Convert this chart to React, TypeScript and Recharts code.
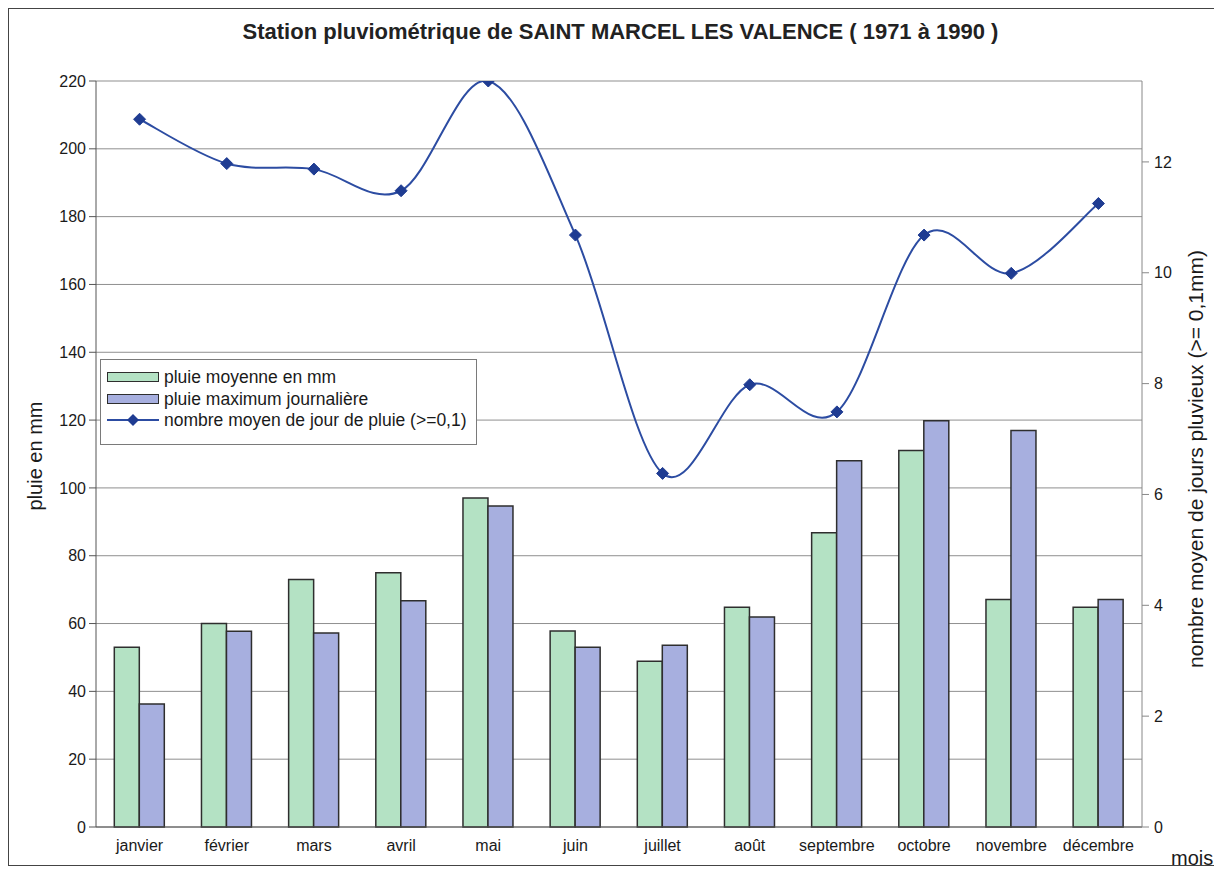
import React from 'react';
import { ComposedChart, Bar, Line, XAxis, YAxis, CartesianGrid, Legend } from 'recharts';

const months = ['janvier', 'février', 'mars', 'avril', 'mai', 'juin', 'juillet', 'août', 'septembre', 'octobre', 'novembre', 'décembre'];
const pluieMoyenne = [53, 60, 73, 75, 97, 57.8, 48.9, 64.8, 86.8, 111, 67.1, 64.8];
const pluieMaximum = [36.3, 57.7, 57.2, 66.7, 94.7, 53, 53.6, 61.9, 108, 119.8, 116.9, 67.1];
const joursPluie = [12.77, 11.97, 11.87, 11.48, 13.46, 10.68, 6.38, 7.98, 7.49, 10.68, 9.99, 11.25];

const leftTicks = [0, 20, 40, 60, 80, 100, 120, 140, 160, 180, 200, 220];
const rightTicks = [0, 2, 4, 6, 8, 10, 12];
const boundaryTicks = [0, 1, 2, 3, 4, 5, 6, 7, 8, 9, 10, 11, 12];

const legendLabels = ['pluie moyenne en mm', 'pluie maximum journalière', 'nombre moyen de jour de pluie (>=0,1)'];

const data = months.map((m, i) => ({
  month: m,
  moy: pluieMoyenne[i],
  max: pluieMaximum[i],
  jours: joursPluie[i],
}));

const FONT = '"Liberation Sans", Arial, sans-serif';
const GREEN = '#b4e2c4';
const BLUE = '#a7afdf';
const LINE = '#2c4ca2';
const MARK = '#1f3c92';
const BAR_STROKE = '#2e2e2e';

// Catmull-Rom style smoothing (similar to Excel smoothed lines)
const smoothCurve: any = (context: any) => {
  let pts: number[][] = [];
  return {
    areaStart() {},
    areaEnd() {},
    lineStart() {
      pts = [];
    },
    point(x: number, y: number) {
      pts.push([+x, +y]);
    },
    lineEnd() {
      const n = pts.length;
      if (!n) return;
      context.moveTo(pts[0][0], pts[0][1]);
      for (let i = 0; i < n - 1; i++) {
        const p0 = pts[i - 1] || pts[i];
        const p1 = pts[i];
        const p2 = pts[i + 1];
        const p3 = pts[i + 2] || p2;
        context.bezierCurveTo(
          p1[0] + (p2[0] - p0[0]) / 6,
          p1[1] + (p2[1] - p0[1]) / 6,
          p2[0] - (p3[0] - p1[0]) / 6,
          p2[1] - (p3[1] - p1[1]) / 6,
          p2[0],
          p2[1]
        );
      }
    },
  };
};

const Diamond = (props: any) => {
  const { cx, cy, index } = props;
  if (cx == null || cy == null) return <g key={`d-${index}`} />;
  const r = 6;
  return (
    <polygon
      key={`d-${index}`}
      points={`${cx},${cy - r} ${cx + r},${cy} ${cx},${cy + r} ${cx - r},${cy}`}
      fill={MARK}
      stroke={MARK}
      strokeWidth={1}
    />
  );
};

const LegendBox = () => (
  <div
    style={{
      width: 377,
      height: 86,
      boxSizing: 'border-box',
      border: '1px solid #7a7a7a',
      background: '#fff',
      position: 'relative',
      fontFamily: FONT,
      fontSize: 17.5,
      color: '#1a1a1a',
    }}
  >
    {legendLabels.map((lab, i) => {
      const cy = [17, 39, 60][i];
      return (
        <div key={lab} style={{ position: 'absolute', left: 0, top: cy - 11, height: 22, width: '100%' }}>
          {i < 2 ? (
            <div
              style={{
                position: 'absolute',
                left: 6,
                top: 6,
                width: 52,
                height: 10,
                boxSizing: 'border-box',
                background: i === 0 ? GREEN : BLUE,
                border: `1.5px solid ${BAR_STROKE}`,
              }}
            />
          ) : (
            <svg style={{ position: 'absolute', left: 6, top: 0 }} width={54} height={22}>
              <line x1={0} y1={11} x2={52} y2={11} stroke={LINE} strokeWidth={2} />
              <polygon points="26,5 32,11 26,17 20,11" fill={MARK} />
            </svg>
          )}
          <div style={{ position: 'absolute', left: 63, top: 0, lineHeight: '22px', whiteSpace: 'nowrap' }}>{lab}</div>
        </div>
      );
    })}
  </div>
);

const LeftLabel = (props: any) => {
  const { viewBox } = props;
  const x = viewBox.x + 26;
  const y = viewBox.y + viewBox.height / 2 + 2;
  return (
    <text x={x} y={y} transform={`rotate(-90 ${x} ${y})`} textAnchor="middle" dominantBaseline="central" fontSize={20} fontFamily={FONT} fill="#1a1a1a">
      pluie en mm
    </text>
  );
};

const RightLabel = (props: any) => {
  const { viewBox } = props;
  const x = viewBox.x + 53;
  const y = viewBox.y + viewBox.height / 2 + 5;
  return (
    <text x={x} y={y} transform={`rotate(-90 ${x} ${y})`} textAnchor="middle" dominantBaseline="central" fontSize={21} fontFamily={FONT} fill="#1a1a1a">
      nombre moyen de jours pluvieux (&gt;= 0,1mm)
    </text>
  );
};

export default function App() {
  return (
    <div
      style={{
        width: 1211,
        height: 856,
        border: '1px solid #444',
        position: 'relative',
        background: '#fff',
        fontFamily: FONT,
      }}
    >
      <div
        style={{
          position: 'absolute',
          left: 6,
          top: 12,
          width: 1211,
          textAlign: 'center',
          fontSize: 22,
          lineHeight: '22px',
          fontWeight: 'bold',
          color: '#222',
          zIndex: 2,
        }}
      >
        Station pluviométrique de SAINT MARCEL LES VALENCE ( 1971 à 1990 )
      </div>
      <ComposedChart
        width={1211}
        height={856}
        data={data}
        margin={{ top: 72, right: 0, bottom: 0, left: 0 }}
        barCategoryGap="21%"
        barGap={0}
      >
        <CartesianGrid vertical={false} stroke="#8f8f8f" strokeWidth={1} yAxisId="left" xAxisId="cat" />
        <XAxis
          xAxisId="ticks"
          type="number"
          domain={[0, 12]}
          ticks={boundaryTicks}
          allowDataOverflow
          height={0}
          axisLine={false}
          tickLine={{ stroke: '#555' }}
          tickSize={7}
          tick={() => <g />}
        />
        <XAxis
          xAxisId="cat"
          dataKey="month"
          height={38}
          interval={0}
          tickLine={false}
          tickSize={0}
          tickMargin={13}
          axisLine={{ stroke: '#555' }}
          tick={{ fontSize: 16, fill: '#1a1a1a', fontFamily: FONT }}
        />
        <YAxis
          yAxisId="left"
          domain={[0, 220]}
          ticks={leftTicks}
          width={87}
          tickSize={7}
          tickMargin={3}
          axisLine={{ stroke: '#555' }}
          tickLine={{ stroke: '#555' }}
          tick={{ fontSize: 16, fill: '#1a1a1a', fontFamily: FONT }}
          label={<LeftLabel />}
        />
        <YAxis
          yAxisId="right"
          orientation="right"
          domain={[0, 13.46]}
          allowDataOverflow
          ticks={rightTicks}
          width={78}
          tickSize={7}
          tickMargin={5}
          axisLine={{ stroke: '#888' }}
          tickLine={{ stroke: '#888' }}
          tick={{ fontSize: 16, fill: '#1a1a1a', fontFamily: FONT }}
          label={<RightLabel />}
        />
        <Bar xAxisId="cat" yAxisId="left" dataKey="moy" name={legendLabels[0]} fill={GREEN} stroke={BAR_STROKE} strokeWidth={1.5} isAnimationActive={false} />
        <Bar xAxisId="cat" yAxisId="left" dataKey="max" name={legendLabels[1]} fill={BLUE} stroke={BAR_STROKE} strokeWidth={1.5} isAnimationActive={false} />
        <Line
          xAxisId="cat"
          yAxisId="right"
          dataKey="jours"
          name={legendLabels[2]}
          type={smoothCurve}
          stroke={LINE}
          strokeWidth={2}
          dot={Diamond}
          activeDot={false}
          isAnimationActive={false}
        />
        <Legend
          layout="horizontal"
          verticalAlign="middle"
          align="center"
          content={() => <LegendBox />}
          wrapperStyle={{ position: 'absolute', left: 91, top: 350, width: 377, height: 86 }}
        />
      </ComposedChart>
      <div
        style={{
          position: 'absolute',
          left: 1162,
          top: 839,
          fontSize: 20,
          lineHeight: '20px',
          color: '#1a1a1a',
        }}
      >
        mois
      </div>
    </div>
  );
}
